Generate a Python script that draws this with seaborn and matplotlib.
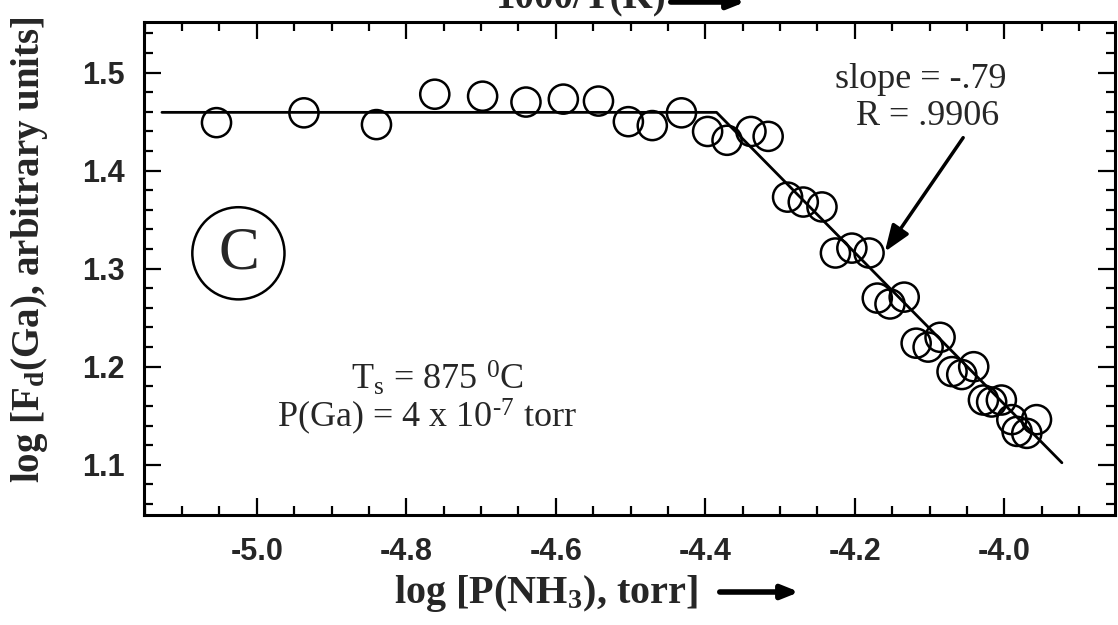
import matplotlib
matplotlib.use("Agg")
import matplotlib.pyplot as plt
import seaborn as sns
from matplotlib.ticker import MultipleLocator, FormatStrFormatter

# measured points: log P(NH3) vs log Fd(Ga)
log_p_nh3 = [-5.054, -4.937, -4.840, -4.762, -4.698, -4.640, -4.590, -4.543,
             -4.503, -4.471, -4.432, -4.397, -4.371, -4.339, -4.316,
             -4.290, -4.269, -4.244, -4.226, -4.204, -4.181,
             -4.170, -4.153, -4.134, -4.118, -4.102, -4.086,
             -4.070, -4.057, -4.041, -4.028, -4.017, -4.004,
             -3.990, -3.983, -3.970, -3.957]
log_fd_ga = [1.449, 1.459, 1.447, 1.478, 1.476, 1.470, 1.473, 1.471,
             1.450, 1.446, 1.459, 1.440, 1.431, 1.440, 1.435,
             1.373, 1.368, 1.363, 1.316, 1.321, 1.316,
             1.270, 1.264, 1.271, 1.224, 1.220, 1.230,
             1.195, 1.192, 1.200, 1.166, 1.164, 1.166,
             1.146, 1.134, 1.132, 1.146]

# two-segment fit (flat, then slope -.79)
fit_x = [-5.127, -4.385, -3.923]
fit_y = [1.4595, 1.4595, 1.102]

sns.set_style("ticks")
plt.rcParams["font.family"] = ["Liberation Serif", "DejaVu Serif"]
plt.rcParams["axes.unicode_minus"] = False
plt.rcParams["mathtext.default"] = "regular"

fig, ax = plt.subplots(figsize=(11.18, 6.25), dpi=100)
fig.subplots_adjust(left=0.1288, right=0.9973, top=0.9653, bottom=0.176)

sns.lineplot(x=fit_x, y=fit_y, color="black", lw=2, sort=False, ax=ax)
sns.scatterplot(x=log_p_nh3, y=log_fd_ga, marker="o", s=440, color="black",
                facecolor="none", edgecolor="black", linewidth=1.8, ax=ax, zorder=3)

ax.set_xlim(-5.151, -3.852)
ax.set_ylim(1.0487, 1.552)

ax.xaxis.set_major_locator(MultipleLocator(0.2))
ax.xaxis.set_minor_locator(MultipleLocator(0.05))
ax.yaxis.set_major_locator(MultipleLocator(0.1))
ax.yaxis.set_minor_locator(MultipleLocator(0.02))
ax.xaxis.set_major_formatter(FormatStrFormatter("%.1f"))
ax.yaxis.set_major_formatter(FormatStrFormatter("%.1f"))

ax.tick_params(which="both", direction="in", top=True, right=True, width=1.6, color="black")
ax.tick_params(which="major", length=12)
ax.tick_params(which="minor", length=6.5)
ax.tick_params(axis="x", which="major", pad=16)
ax.tick_params(axis="y", which="major", pad=14)
for lab in ax.get_xticklabels() + ax.get_yticklabels():
    lab.set_fontfamily("Liberation Sans")
    lab.set_fontweight("bold")
    lab.set_fontsize(22)

for sp in ax.spines.values():
    sp.set_linewidth(2.2)
    sp.set_color("black")

# axis labels as figure text so the arrows can sit next to them
fig.text(0.488, 1 - 594 / 625, "log [P(NH$_3$), torr]", ha="center", va="center",
         fontsize=29, fontweight="bold")
fig.text(0.026, 1 - 250 / 625, "log [F$_d$(Ga), arbitrary units]", ha="center",
         va="center", rotation=90, fontsize=28, fontweight="bold")
fig.text(0.52, 1 - 8 / 625, "1000/T(K)", ha="center", va="baseline",
         fontsize=28, fontweight="bold")

arrow = dict(arrowstyle="-|>,head_length=1.0,head_width=0.4", lw=4, color="black")
ax.annotate("", xy=(802 / 1118, 1 - 592 / 625), xytext=(717 / 1118, 1 - 592 / 625),
            xycoords="figure fraction", textcoords="figure fraction", arrowprops=arrow)
ax.annotate("", xy=(748 / 1118, 1 - 2 / 625), xytext=(668 / 1118, 1 - 2 / 625),
            xycoords="figure fraction", textcoords="figure fraction",
            arrowprops=arrow, annotation_clip=False)

# fit annotation
ax.text(-4.112, 1.484, "slope = -.79", ha="center", va="baseline", fontsize=26)
ax.text(-4.102, 1.4466, "R = .9906", ha="center", va="baseline", fontsize=26)
ax.annotate("", xy=(-4.162, 1.315), xytext=(-4.053, 1.436),
            arrowprops=dict(arrowstyle="-|>,head_length=1.6,head_width=0.6",
                            lw=2.5, color="black"))

# panel label and conditions
ax.text(-5.0247, 1.3157, "C", ha="center", va="center", fontsize=44,
        bbox=dict(boxstyle="circle,pad=0.3", fc="none", ec="black", lw=1.8))
ax.text(-4.759, 1.188, "T$_s$ = 875 $^0$C", ha="center", va="center", fontsize=26)
ax.text(-4.773, 1.149, "P(Ga) = 4 x 10$^{\u20107}$ torr", ha="center", va="center",
        fontsize=26)

fig.savefig("out.png", dpi=100, facecolor="white")
